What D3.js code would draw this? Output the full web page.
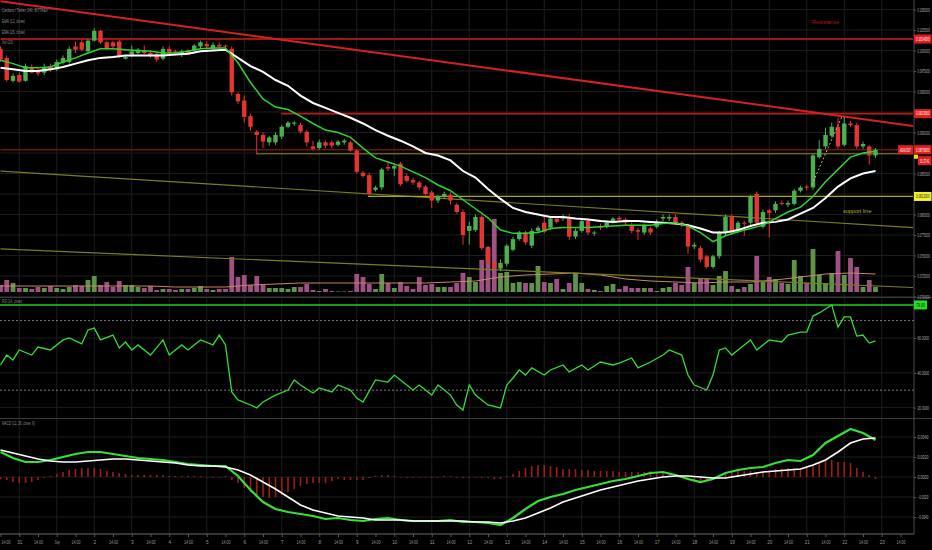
<!DOCTYPE html>
<html>
<head>
<meta charset="utf-8">
<script src="https://cdnjs.cloudflare.com/ajax/libs/d3/7.8.5/d3.min.js"></script>
<style>
  html, body { margin: 0; padding: 0; background: #000; }
  svg { display: block; }
  text { font-family: "Liberation Sans", Arial, sans-serif; }
</style>
</head>
<body>
<div id="chart"></div>
<script>
// ---- Datos (ADA/USDT, velas de 4h) ----
const xLabels = ['14:00','31','14:00','Sep','14:00','2','14:00','3','14:00','4','14:00','5','14:00','6',
  '14:00','7','14:00','8','14:00','9','14:00','10','14:00','11','14:00','12','14:00','13','14:00','14',
  '14:00','15','14:00','16','14:00','17','14:00','18','14:00','19','14:00','20','14:00','21','14:00','22',
  '14:00','23','14:00'];

const openP = [
  .1002,.0991,.0963,.0970,.0963,.0980,.0975,.0973,.0981,.0977,
  .0985,.0986,.1005,.1010,.0999,.1012,.1024,.1010,.1010,.1011,
  .0990,.0995,.0997,.1000,.0997,.0996,.0990,.1002,.0999,.0995,
  .1000,.1000,.1005,.1008,.1002,.1007,.1006,.1002,.0947,.0939,
  .0920,.0901,.0897,.0888,.0888,.0895,.0907,.0911,.0909,.0901,
  .0883,.0881,.0888,.0888,.0885,.0888,.0888,.0878,.0851,.0848,
  .0830,.0833,.0858,.0856,.0862,.0847,.0842,.0839,.0834,.0827,
  .0817,.0822,.0824,.0812,.0803,.0780,.0781,.0797,.0759,.0741,
  .0734,.0740,.0757,.0770,.0778,.0762,.0780,.0790,.0784,.0795,
  .0795,.0796,.0773,.0780,.0792,.0777,.0786,.0785,.0791,.0796,
  .0794,.0787,.0781,.0778,.0783,.0785,.0795,.0795,.0797,.0790,
  .0786,.0761,.0759,.0749,.0736,.0749,.0778,.0797,.0779,.0790,
  .0790,.0825,.0785,.0805,.0805,.0814,.0812,.0813,.0829,.0834,
  .0833,.0870,.0883,.0896,.0907,.0885,.0911,.0909,.0883,.0883,
  .0872];
const highP = [
  .1005,.0994,.0972,.0973,.0984,.0983,.0978,.0984,.0984,.0989,
  .0994,.1005,.1011,.1013,.1014,.1027,.1025,.1012,.1012,.1013,
  .0995,.1006,.1003,.1006,.1000,.0999,.1005,.1005,.1001,.1001,
  .1002,.1008,.1012,.1011,.1010,.1010,.1007,.1005,.0949,.0945,
  .0923,.0903,.0900,.0896,.0900,.0909,.0914,.0914,.0912,.0903,
  .0890,.0891,.0890,.0890,.0891,.0892,.0890,.0880,.0853,.0851,
  .0835,.0857,.0863,.0862,.0864,.0850,.0845,.0841,.0836,.0829,
  .0824,.0828,.0827,.0814,.0806,.0791,.0800,.0800,.0762,.0744,
  .0745,.0764,.0773,.0780,.0780,.0783,.0786,.0800,.0797,.0797,
  .0800,.0801,.0783,.0795,.0795,.0780,.0789,.0792,.0797,.0798,
  .0796,.0790,.0784,.0789,.0785,.0794,.0800,.0800,.0800,.0792,
  .0789,.0766,.0762,.0751,.0751,.0780,.0800,.0800,.0792,.0792,
  .0824,.0828,.0806,.0807,.0816,.0817,.0817,.0831,.0835,.0836,
  .0874,.0891,.0906,.0912,.0918,.0919,.0914,.0912,.0889,.0885,
  .0881];
const lowP = [
  .0986,.0962,.0961,.0961,.0962,.0972,.0969,.0970,.0974,.0975,
  .0983,.0984,.0997,.0999,.0996,.1011,.1008,.1001,.1002,.0991,
  .0989,.0992,.0995,.0995,.0991,.0986,.0988,.0995,.0994,.0992,
  .0995,.0999,.1002,.1002,.1001,.1002,.1003,.0945,.0935,.0912,
  .0902,.0873,.0881,.0884,.0885,.0892,.0905,.0908,.0899,.0883,
  .0878,.0879,.0881,.0881,.0883,.0885,.0877,.0850,.0845,.0823,
  .0828,.0830,.0853,.0847,.0835,.0839,.0836,.0830,.0823,.0808,
  .0814,.0819,.0812,.0801,.0763,.0763,.0779,.0757,.0739,.0733,
  .0731,.0737,.0755,.0768,.0763,.0759,.0778,.0777,.0781,.0789,
  .0792,.0769,.0770,.0778,.0775,.0774,.0781,.0783,.0789,.0791,
  .0787,.0777,.0769,.0775,.0775,.0783,.0792,.0792,.0787,.0785,
  .0752,.0758,.0742,.0734,.0734,.0746,.0775,.0775,.0777,.0774,
  .0787,.0787,.0783,.0772,.0802,.0811,.0809,.0811,.0827,.0830,
  .0830,.0868,.0880,.0894,.0880,.0883,.0907,.0880,.0880,.0861,
  .0869];
const closeP = [
  .0989,.0964,.0969,.0962,.0981,.0973,.0972,.0980,.0977,.0986,
  .0991,.1002,.1001,.1001,.1012,.1024,.1010,.1003,.1005,.0994,
  .0992,.0999,.1001,.0997,.0994,.0989,.1002,.0997,.0996,.0999,
  .0997,.1006,.1010,.1005,.1007,.1005,.1005,.0949,.0938,.0919,
  .0907,.0897,.0889,.0894,.0897,.0907,.0912,.0912,.0901,.0888,
  .0880,.0888,.0884,.0884,.0889,.0890,.0878,.0852,.0847,.0825,
  .0833,.0855,.0856,.0859,.0837,.0841,.0839,.0833,.0825,.0817,
  .0822,.0825,.0817,.0803,.0775,.0786,.0797,.0759,.0741,.0735,
  .0741,.0762,.0770,.0778,.0766,.0780,.0784,.0779,.0795,.0791,
  .0797,.0773,.0780,.0792,.0778,.0778,.0784,.0790,.0795,.0794,
  .0790,.0780,.0779,.0786,.0778,.0791,.0797,.0797,.0790,.0787,
  .0761,.0763,.0745,.0736,.0749,.0778,.0797,.0778,.0790,.0789,
  .0822,.0790,.0803,.0802,.0813,.0813,.0814,.0829,.0833,.0833,
  .0872,.0880,.0897,.0907,.0883,.0911,.0909,.0883,.0886,.0872,
  .0879];
// volumen en millones
const volume = [
  0.7,1.2,0.9,0.4,0.4,0.3,0.5,0.4,0.6,0.4,
  0.3,0.5,0.7,0.6,1.2,1.6,0.7,1.0,0.5,1.1,
  0.7,0.7,0.5,0.4,0.6,0.2,0.3,0.3,0.2,0.3,
  0.3,0.4,0.6,0.3,0.2,0.3,0.3,3.5,1.5,1.7,
  0.7,1.6,0.7,0.4,0.4,0.4,0.3,0.5,0.5,0.8,
  0.2,0.1,0.3,0.1,0.05,0.05,0.1,1.8,1.5,0.8,
  0.3,1.8,0.9,0.4,1.0,0.6,0.3,1.5,0.7,0.8,
  0.5,0.5,0.5,0.9,1.9,1.5,1.0,3.2,4.5,7.3,
  1.9,2.0,0.9,1.0,0.9,0.9,2.6,1.0,0.9,1.3,
  0.3,0.9,1.9,0.9,0.3,0.2,0.1,0.6,0.8,0.3,
  0.6,0.4,0.4,0.4,0.4,0.1,0.4,0.5,0.9,0.7,
  2.5,0.9,1.4,1.4,0.7,1.6,2.1,0.6,0.3,0.5,
  0.8,3.6,1.0,1.5,1.3,0.9,0.8,3.2,1.6,0.9,
  4.3,1.7,0.9,1.9,4.1,1.7,3.4,2.5,0.5,1.2,
  0.5];
const volMaIdx = d3.range(0, 141, 4);
const volMa = [0.6,0.6,0.6,0.6,0.6,0.6,0.6,0.5,0.5,0.5,
  0.7,0.8,0.9,0.9,0.9,0.9,0.9,0.9,1.0,1.1,
  1.5,1.7,1.8,1.9,1.7,1.3,1.1,1.0,0.9,1.0,
  1.0,1.2,1.5,1.8,1.9,1.8];

const emaIdx = d3.range(0, 141, 2);
const ema12 = [
  .0988,.0984,.0979,.0979,.0980,.0986,.0991,.0997,.1002,.1002,
  .1001,.1000,.0999,.0997,.0997,.0999,.1002,.1003,.1003,.0985,
  .0961,.0941,.0931,.0928,.0920,.0911,.0903,.0900,.0894,.0881,
  .0869,.0864,.0859,.0852,.0845,.0836,.0829,.0818,.0807,.0796,
  .0781,.0777,.0777,.0778,.0783,.0784,.0784,.0784,.0785,.0786,
  .0787,.0787,.0787,.0789,.0790,.0786,.0778,.0767,.0774,.0779,
  .0783,.0787,.0795,.0803,.0809,.0822,.0840,.0855,.0870,.0875,
  .0877];
const ema26 = [
  .0979,.0977,.0975,.0975,.0977,.0980,.0984,.0988,.0991,.0992,
  .0994,.0994,.0994,.0994,.0995,.0996,.0999,.1000,.1001,.0991,
  .0981,.0974,.0964,.0957,.0945,.0936,.0930,.0924,.0918,.0911,
  .0903,.0896,.0890,.0883,.0875,.0872,.0866,.0853,.0845,.0831,
  .0819,.0808,.0803,.0800,.0797,.0797,.0795,.0794,.0792,.0791,
  .0792,.0792,.0791,.0790,.0789,.0787,.0783,.0778,.0778,.0781,
  .0786,.0790,.0791,.0794,.0801,.0808,.0820,.0834,.0844,.0850,
  .0853];

const rsiIdx = [0,1,2,3,5,6,8,10,11,13,14,15,16,18,19,20,21,22,24,26,27,29,30,32,34,35,36,37,38,40,
  41,42,44,46,47,48,50,51,53,54,56,57,58,60,62,63,65,66,67,69,70,72,73,74,75,76,77,78,80,81,
  82,83,84,85,87,88,90,91,93,94,96,98,99,101,102,104,106,107,109,110,111,113,114,115,116,117,118,120,121,122,
  123,125,126,128,129,130,131,133,134,135,136,137,138,139,140];
const rsiVal = [44.5,50.2,47.4,53.1,50.2,54.8,53.1,58.9,60.0,56.6,64.6,65.7,58.9,61.7,54.3,57.7,53.1,56.0,50.2,58.9,
  50.2,56.0,53.1,58.9,56.0,61.7,56.0,29.0,24.4,21.5,19.8,23.2,27.2,30.1,35.9,33.0,28.4,31.3,29.0,33.0,
  30.1,25.5,23.2,35.9,34.7,38.7,33.0,30.1,33.0,27.2,33.0,27.2,21.5,18.6,33.0,27.2,24.4,21.5,19.8,33.0,
  37.0,41.6,38.7,42.8,38.7,41.6,44.5,40.5,44.5,41.6,46.2,44.5,45.6,48.5,42.8,46.2,50.2,53.1,50.2,38.7,
  33.0,30.1,38.7,53.1,54.3,50.2,53.1,58.9,53.1,56.0,58.9,57.7,61.7,63.4,63.4,72.6,74.4,79.0,66.3,72.1,
  72.1,61.1,61.7,57.1,58.3];
const rsiLevel = 79.0;

const macdIdx = d3.range(0, 141, 2);
const macdVal = [
  0.0025,0.0019,0.0015,0.0015,0.0017,0.0020,0.0023,0.0025,0.0025,0.0023,
  0.0021,0.0019,0.0018,0.0017,0.0015,0.0013,0.0012,0.0011,0.0011,0.0001,
  -0.0013,-0.0025,-0.0032,-0.0035,-0.0037,-0.0039,-0.0042,-0.0041,-0.0043,-0.0044,
  -0.0042,-0.0041,-0.0043,-0.0044,-0.0044,-0.0044,-0.0043,-0.0045,-0.0045,-0.0046,
  -0.0048,-0.0041,-0.0032,-0.0024,-0.0020,-0.0017,-0.0013,-0.0010,-0.0007,-0.0004,
  -0.0002,0.0001,0.0004,0.0005,0.0002,-0.0002,-0.0005,-0.0002,0.0004,0.0007,
  0.0009,0.0010,0.0014,0.0017,0.0016,0.0022,0.0034,0.0041,0.0048,0.0044,
  0.0037];
const signalVal = [
  0.0027,0.0024,0.0021,0.0018,0.0016,0.0015,0.0015,0.0016,0.0017,0.0018,
  0.0018,0.0017,0.0016,0.0015,0.0014,0.0012,0.0011,0.0011,0.0010,0.0007,
  0.0002,-0.0005,-0.0012,-0.0020,-0.0028,-0.0033,-0.0036,-0.0039,-0.0040,-0.0041,
  -0.0043,-0.0043,-0.0043,-0.0044,-0.0044,-0.0044,-0.0044,-0.0044,-0.0045,-0.0045,
  -0.0046,-0.0044,-0.0041,-0.0036,-0.0031,-0.0025,-0.0021,-0.0017,-0.0013,-0.0010,
  -0.0007,-0.0004,-0.0002,0.0000,0.0001,0.0001,0.0000,-0.0001,-0.0001,0.0001,
  0.0003,0.0005,0.0006,0.0007,0.0008,0.0012,0.0017,0.0025,0.0034,0.0038,
  0.0039];
const histVal = [
  -0.0002,-0.0003,-0.0005,-0.0006,-0.0006,-0.0005,-0.0003,-0.0001,0.0001,0.0003,
  0.0005,0.0007,0.0008,0.0009,0.0009,0.0009,0.0008,0.0006,0.0005,0.0004,
  0.0003,0.0002,0.0002,0.0002,0.0002,0.0002,0.0002,0.0001,0.0001,0.0001,
  0.0001,0.0001,0.0001,0,0,0,0.0001,-0.0003,-0.0006,-0.0011,
  -0.0015,-0.0018,-0.0020,-0.0021,-0.0020,-0.0018,-0.0015,-0.0012,-0.0009,-0.0007,
  -0.0006,-0.0006,-0.0006,-0.0004,-0.0002,-0.0003,-0.0003,-0.0003,-0.0003,-0.0001,
  0.0001,0.0002,0.0002,0.0001,0,-0.0001,0,0,0,-0.0001,
  0,0.0001,0.0001,0,-0.0001,-0.0001,0,-0.0001,-0.0001,-0.0002,
  -0.0002,0.0001,0.0003,0.0006,0.0009,0.0011,0.0012,0.0012,0.0011,0.0010,
  0.0008,0.0008,0.0008,0.0007,0.0007,0.0006,0.0006,0.0006,0.0006,0.0005,
  0.0005,0.0005,0.0005,0.0005,0.0006,0.0005,0.0005,0.0003,0.0001,-0.0001,
  -0.0003,-0.0004,-0.0005,-0.0003,-0.0001,0.0002,0.0005,0.0005,0.0006,0.0006,
  0.0006,0.0005,0.0005,0.0006,0.0008,0.0008,0.0009,0.0009,0.0007,0.0009,
  0.0011,0.0014,0.0017,0.0017,0.0015,0.0015,0.0014,0.0009,0.0005,0.0002,
  -0.0002];

// dibujos: [indice vela, precio]
const resistTrend = [[0, 0.1060], [146, 0.0908]];
const channelUpper = [[0, 0.0853], [146, 0.0784]];
const channelLower = [[0, 0.0758], [146, 0.0711]];
const dottedTrend = [[129.8, 0.0836], [134.6, 0.0919]];
const resistLevels = [0.1014, 0.0923];
const supportLevels = [0.0874, 0.0822];
const lastPrice = 0.0879;

const priceTicks = d3.range(0, 15).map(k => 0.105 - k * 0.0025);
const rsiTicks = [20, 40, 60];
const rsiBands = [30, 70];
const macdTicks = [-0.004, -0.002, 0, 0.002, 0.004];

// ---- Constantes ----
const width = 932;
const height = 550;
const plotRight = 914;
const axisY = 534;
const upColor = '#4caf50';
const downColor = '#e53530';
const gridColor = '#1c1c1c';

const svg = d3.select('#chart').append('svg')
  .attr('width', width)
  .attr('height', height)
  .style('background', '#000');

// estrecha un texto en horizontal hasta que quepa en w pixeles
function squeeze(sel, w) {
  sel.each(function (d, k) {
    const maxW = typeof w === 'function' ? w(d, k) : w;
    const len = this.getComputedTextLength();
    if (len <= maxW) return;
    const s = maxW / len;
    const x0 = +this.getAttribute('x') || 0;
    d3.select(this).attr('transform', `translate(${x0},0) scale(${s},1) translate(${-x0},0)`);
  });
}

const defs = svg.append('defs');
function clip(id, y0, h) {
  defs.append('clipPath').attr('id', id)
    .append('rect').attr('x', 0).attr('y', y0).attr('width', plotRight).attr('height', h);
}
clip('clipMain', 0, 297);
clip('clipRsi', 298, 120);
clip('clipMacd', 419, 115);

// Escalas
const x = d3.scaleLinear().domain([0, 146]).range([0.5, 913]);
const y = d3.scaleLinear().domain([0.070, 0.105]).range([296.5, 9.5]);
const yVol = d3.scaleLinear().domain([0, 10]).range([292, 192]);
const yRsi = d3.scaleLinear().domain([20, 60]).range([407.6, 338]);
const yMacd = d3.scaleLinear().domain([-0.004, 0.004]).range([517, 437]);

const candles = d3.range(closeP.length);
const isUp = i => closeP[i] >= openP[i];

// Rejilla
const grid = svg.append('g').attr('class', 'grid');
const dayIdx = xLabels.map((l, k) => [l, k * 3]).filter(d => d[0] !== '14:00').map(d => d[1]);
grid.selectAll('.vgrid').data(dayIdx).enter().append('line')
  .attr('x1', d => x(d)).attr('x2', d => x(d))
  .attr('y1', 0).attr('y2', axisY)
  .attr('stroke', gridColor);
grid.selectAll('.pgrid').data(priceTicks).enter().append('line')
  .attr('x1', 0).attr('x2', plotRight)
  .attr('y1', d => y(d)).attr('y2', d => y(d))
  .attr('stroke', gridColor);
grid.selectAll('.rgrid').data(rsiTicks).enter().append('line')
  .attr('x1', 0).attr('x2', plotRight)
  .attr('y1', d => yRsi(d)).attr('y2', d => yRsi(d))
  .attr('stroke', gridColor);
grid.selectAll('.mgrid').data(macdTicks).enter().append('line')
  .attr('x1', 0).attr('x2', plotRight)
  .attr('y1', d => yMacd(d)).attr('y2', d => yMacd(d))
  .attr('stroke', gridColor);

// ---- Panel principal ----
const gMain = svg.append('g').attr('clip-path', 'url(#clipMain)');

// Volumen
gMain.selectAll('.vol').data(candles).enter().append('rect')
  .attr('x', i => x(i) - 2.4)
  .attr('width', 4.8)
  .attr('y', i => yVol(volume[i]))
  .attr('height', i => yVol(0) - yVol(volume[i]))
  .attr('fill', i => isUp(i) ? '#5f9448' : '#9e5284');

const line = d3.line().x(d => x(d[0])).y(d => d[1]);

gMain.append('path')
  .datum(volMaIdx.map((k, j) => [k, yVol(volMa[j])]))
  .attr('d', line)
  .attr('fill', 'none')
  .attr('stroke', '#c8866a')
  .attr('stroke-width', 1);

// Lineas dibujadas
function trend(pts, color, w, dash) {
  gMain.append('path')
    .datum(pts.map(p => [p[0], y(p[1])]))
    .attr('d', line)
    .attr('fill', 'none')
    .attr('stroke', color)
    .attr('stroke-width', w)
    .attr('stroke-dasharray', dash || null);
}
trend(channelUpper, '#7c7c22', 1.2);
trend(channelLower, '#7c7c22', 1.2);
trend([[41, supportLevels[0]], [146, supportLevels[0]]], '#8c8c28', 1);
trend([[58.8, supportLevels[1]], [146, supportLevels[1]]], '#a6a62a', 1.2);
trend([[0, lastPrice], [146, lastPrice]], '#6e1414', 1.5);
trend([[0, resistLevels[0]], [146, resistLevels[0]]], '#9c1616', 2);
trend([[44.9, resistLevels[1]], [146, resistLevels[1]]], '#b81c1c', 1.8);
trend(resistTrend, '#d42222', 2);

// Velas
gMain.selectAll('.wick').data(candles).enter().append('line')
  .attr('x1', i => x(i)).attr('x2', i => x(i))
  .attr('y1', i => y(highP[i])).attr('y2', i => y(lowP[i]))
  .attr('stroke', i => isUp(i) ? upColor : downColor)
  .attr('stroke-width', 1);

gMain.selectAll('.body').data(candles).enter().append('rect')
  .attr('x', i => x(i) - 2.2)
  .attr('width', 4.4)
  .attr('y', i => y(Math.max(openP[i], closeP[i])))
  .attr('height', i => Math.max(1, Math.abs(y(openP[i]) - y(closeP[i]))))
  .attr('fill', i => isUp(i) ? upColor : downColor);

trend(dottedTrend, '#d8a870', 1, '2,2');

// EMAs
gMain.append('path')
  .datum(emaIdx.map((k, j) => [k, y(ema26[j])]))
  .attr('d', line)
  .attr('fill', 'none')
  .attr('stroke', '#ffffff')
  .attr('stroke-width', 2);
gMain.append('path')
  .datum(emaIdx.map((k, j) => [k, y(ema12[j])]))
  .attr('d', line)
  .attr('fill', 'none')
  .attr('stroke', '#2fd12f')
  .attr('stroke-width', 1.5);

// Textos del grafico
gMain.append('text').attr('x', 812).attr('y', 24)
  .attr('font-size', 5.5).attr('fill', '#b01c1c').text('Resistance');
gMain.append('text').attr('x', 843).attr('y', 213)
  .attr('font-size', 5.5).attr('fill', '#b3b32a').text('support line');

const legend = ['Cardano / Tether, 240, BITTREX', 'EMA (12, close)', 'EMA (26, close)', 'Vol (20)'];
const legendW = [46, 23, 23, 11];
svg.selectAll('.legend').data(legend).enter().append('text')
  .attr('x', 2)
  .attr('y', (d, k) => 12 + k * 10.8)
  .attr('font-size', 5)
  .attr('fill', '#8a8a8a')
  .text(d => d)
  .call(squeeze, (d, k) => legendW[k]);

// ---- RSI ----
const gRsi = svg.append('g').attr('clip-path', 'url(#clipRsi)');
gRsi.selectAll('.band').data(rsiBands).enter().append('line')
  .attr('x1', 0).attr('x2', plotRight)
  .attr('y1', d => yRsi(d)).attr('y2', d => yRsi(d))
  .attr('stroke', '#9a9a9a')
  .attr('stroke-width', 0.8)
  .attr('stroke-dasharray', '2,2');
gRsi.append('line')
  .attr('x1', 0).attr('x2', plotRight)
  .attr('y1', yRsi(rsiLevel)).attr('y2', yRsi(rsiLevel))
  .attr('stroke', '#1fd11f')
  .attr('stroke-width', 1.5);
gRsi.append('path')
  .datum(rsiIdx.map((k, j) => [k, yRsi(rsiVal[j])]))
  .attr('d', line)
  .attr('fill', 'none')
  .attr('stroke', '#35dc35')
  .attr('stroke-width', 1.3);
svg.append('text').attr('x', 2).attr('y', 303)
  .attr('font-size', 5).attr('fill', '#8a8a8a')
  .text('RSI (14, close)')
  .call(squeeze, 20);

// ---- MACD ----
const gMacd = svg.append('g').attr('clip-path', 'url(#clipMacd)');
gMacd.selectAll('.hist').data(candles).enter().append('rect')
  .attr('x', i => x(i) - 0.8)
  .attr('width', 1.6)
  .attr('y', i => Math.min(yMacd(0), yMacd(histVal[i])))
  .attr('height', i => Math.max(0.6, Math.abs(yMacd(histVal[i]) - yMacd(0))))
  .attr('fill', '#a01c1c');
gMacd.append('path')
  .datum(macdIdx.map((k, j) => [k, yMacd(macdVal[j])]))
  .attr('d', line)
  .attr('fill', 'none')
  .attr('stroke', '#36e036')
  .attr('stroke-width', 2.2);
gMacd.append('path')
  .datum(macdIdx.map((k, j) => [k, yMacd(signalVal[j])]))
  .attr('d', line)
  .attr('fill', 'none')
  .attr('stroke', '#ffffff')
  .attr('stroke-width', 1.6);
svg.append('text').attr('x', 2).attr('y', 425)
  .attr('font-size', 5).attr('fill', '#8a8a8a')
  .text('MACD (12, 26, close, 9)')
  .call(squeeze, 33);

// ---- Separadores y ejes ----
[297.5, 418.5].forEach(v => {
  svg.append('line').attr('x1', 0).attr('x2', width).attr('y1', v).attr('y2', v)
    .attr('stroke', '#3a3a3a');
});
svg.append('line').attr('x1', 0).attr('x2', plotRight).attr('y1', axisY).attr('y2', axisY)
  .attr('stroke', '#6a6a6a');
svg.append('line').attr('x1', plotRight).attr('x2', plotRight).attr('y1', 0).attr('y2', axisY)
  .attr('stroke', '#4a4a4a');

function styleAxis(g, w) {
  g.select('.domain').remove();
  g.selectAll('line').attr('stroke', '#555');
  g.selectAll('text')
    .attr('font-size', 5)
    .attr('fill', '#b0b0b0')
    .call(squeeze, w);
}

// etiquetas del eje que quedan bajo una etiqueta de color
const tagPrices = [resistLevels[0], resistLevels[1], lastPrice, supportLevels[1]];
const fmtP = d3.format('.7f');
const priceLabel = d => tagPrices.some(t => Math.abs(y(t) - y(d)) < 7) ? '' : fmtP(d);

const axPrice = svg.append('g').attr('transform', `translate(${plotRight},0)`)
  .call(d3.axisRight(y).tickValues(priceTicks).tickFormat(priceLabel).tickSize(2).tickPadding(1.5));
styleAxis(axPrice, 12.5);
const axRsi = svg.append('g').attr('transform', `translate(${plotRight},0)`)
  .call(d3.axisRight(yRsi).tickValues(rsiTicks).tickFormat(d3.format('.4f')).tickSize(2).tickPadding(1.5));
styleAxis(axRsi, 11.5);
const axMacd = svg.append('g').attr('transform', `translate(${plotRight},0)`)
  .call(d3.axisRight(yMacd).tickValues(macdTicks).tickFormat(d3.format('.4f')).tickSize(2).tickPadding(1.5));
styleAxis(axMacd, 11);

const axTime = svg.append('g').attr('transform', `translate(0,${axisY})`)
  .call(d3.axisBottom(x).tickValues(xLabels.map((l, k) => k * 3))
    .tickFormat((d, k) => xLabels[k]).tickSize(3).tickPadding(3));
axTime.select('.domain').remove();
axTime.selectAll('line').attr('stroke', '#555');
axTime.selectAll('text')
  .attr('font-size', 5.5)
  .attr('fill', '#9a9a9a')
  .attr('text-anchor', (d, k) => k === 0 ? 'start' : 'middle')
  .attr('x', (d, k) => k === 0 ? 0.5 : 0)
  .call(squeeze, (d, k) => xLabels[k] === '14:00' ? 9 : (xLabels[k].length > 1 ? 5 : 2.6));

// Etiquetas de colores en el eje
function tag(yPos, label, fill, color, x0, w) {
  svg.append('rect').attr('x', x0).attr('y', yPos - 4.5)
    .attr('width', w).attr('height', 9).attr('fill', fill);
  svg.append('text').attr('x', x0 + w / 2).attr('y', yPos + 1.8)
    .attr('text-anchor', 'middle')
    .attr('font-size', 5)
    .attr('fill', color)
    .text(label)
    .call(squeeze, w - 4);
}
tag(y(resistLevels[0]), fmtP(resistLevels[0]), '#e31e1e', '#fff', plotRight, 17.5);
tag(y(resistLevels[1]), fmtP(resistLevels[1]), '#e31e1e', '#fff', plotRight, 17.5);
tag(y(lastPrice), fmtP(lastPrice), '#e31e1e', '#fff', plotRight, 17.5);
tag(y(lastPrice), 'ADAUSDT', '#e31e1e', '#fff', 898, 15);
svg.append('rect').attr('x', plotRight).attr('y', y(lastPrice) + 5)
  .attr('width', 4).attr('height', 4).attr('fill', '#f0e020');
tag(y(lastPrice) + 11, '01:27:41', '#e31e1e', '#fff', plotRight + 4, 13.5);
tag(y(supportLevels[1]), fmtP(supportLevels[1]), '#f2f230', '#222', plotRight, 17.5);
tag(yRsi(rsiLevel), rsiLevel.toFixed(2), '#22e022', '#111', plotRight, 13);
</script>
</body>
</html>
